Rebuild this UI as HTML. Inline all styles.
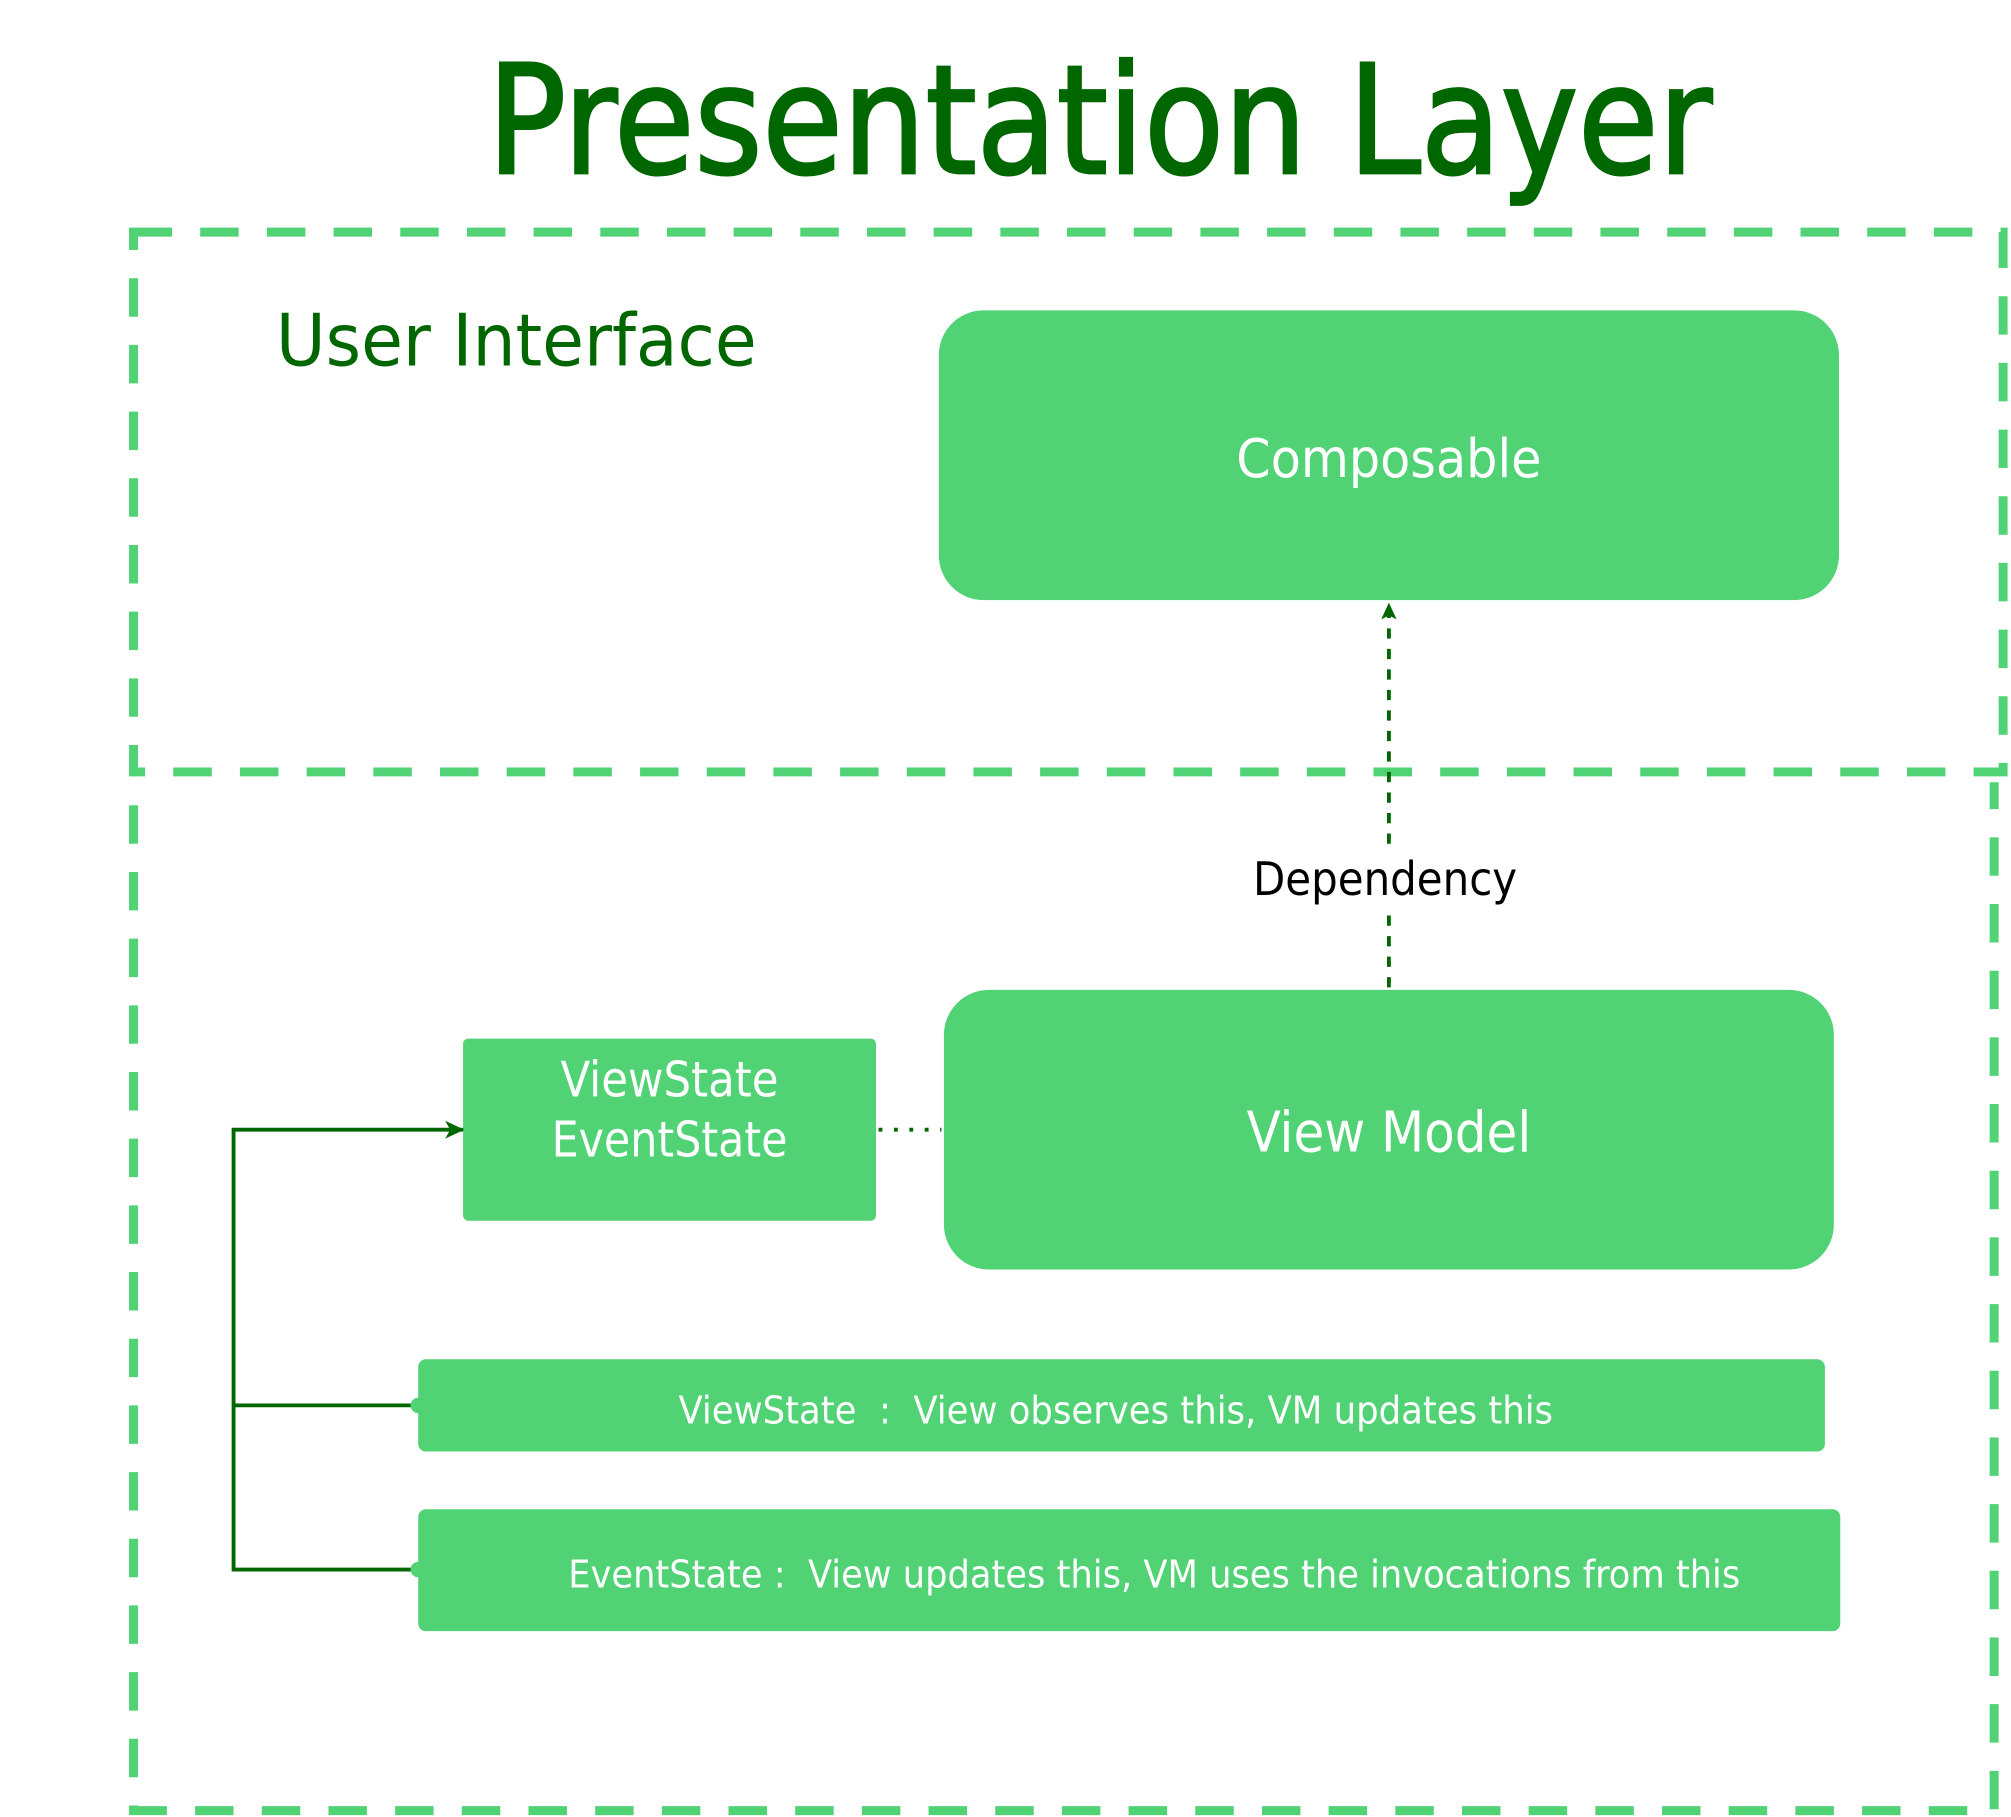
<!DOCTYPE html>
<html><head><meta charset="utf-8"><style>html,body{margin:0;padding:0;background:#fff}svg{display:block}</style></head>
<body>
<svg width="2011" height="1817" viewBox="0 0 1568 1417" xmlns="http://www.w3.org/2000/svg" font-family="'DejaVu Sans Condensed','DejaVu Sans','Liberation Sans',sans-serif">
<defs>
<marker id="ah" markerWidth="16" markerHeight="16" refX="14" refY="8" orient="auto" markerUnits="userSpaceOnUse">
<path d="M0,1 L15,8 L0,15 L4,8 Z" fill="#006600"/></marker>
<marker id="ah2" markerWidth="14" markerHeight="14" refX="12" refY="7" orient="auto" markerUnits="userSpaceOnUse">
<path d="M0,1 L13,7 L0,13 L3,7 Z" fill="#006600"/></marker>
</defs>
<text x="380" y="135" font-size="118" fill="#006600" stroke="#006600" stroke-width="2" textLength="955" lengthAdjust="spacingAndGlyphs">Presentation Layer</text>
<rect x="104" y="181" width="1458" height="421" fill="none" stroke="#50d275" stroke-width="7" stroke-dasharray="30 22"/>
<path d="M104,628 L104,1412 L1555,1412 L1555,610" fill="none" stroke="#50d275" stroke-width="7" stroke-dasharray="30 22"/>
<text x="215" y="285" font-size="56" fill="#006600" textLength="375" lengthAdjust="spacingAndGlyphs">User Interface</text>
<rect x="732" y="242" width="702" height="226" rx="35" fill="#50d275"/>
<text x="1083" y="372" font-size="42" fill="#fff" text-anchor="middle" textLength="238" lengthAdjust="spacingAndGlyphs">Composable</text>
<line x1="1083" y1="770" x2="1083" y2="471" stroke="#006600" stroke-width="3" stroke-dasharray="8 8" marker-end="url(#ah2)"/>
<rect x="970" y="662" width="220" height="46" fill="#fff"/>
<text x="1080" y="698" font-size="36" fill="#000" text-anchor="middle" textLength="206" lengthAdjust="spacingAndGlyphs">Dependency</text>
<rect x="736" y="772" width="694" height="218" rx="35" fill="#50d275"/>
<text x="1083" y="898" font-size="44" fill="#fff" text-anchor="middle" textLength="222" lengthAdjust="spacingAndGlyphs">View Model</text>
<rect x="361" y="810" width="322" height="142" rx="4" fill="#50d275"/>
<text x="522" y="855" font-size="38" fill="#fff" text-anchor="middle" textLength="170" lengthAdjust="spacingAndGlyphs">ViewState</text>
<text x="522" y="902" font-size="38" fill="#fff" text-anchor="middle" textLength="184" lengthAdjust="spacingAndGlyphs">EventState</text>
<line x1="685" y1="881" x2="734" y2="881" stroke="#006600" stroke-width="3" stroke-dasharray="3 9"/>
<polyline points="326,1224 182,1224 182,881 361,881" fill="none" stroke="#006600" stroke-width="3" marker-end="url(#ah)"/>
<line x1="182" y1="1096" x2="326" y2="1096" stroke="#006600" stroke-width="3"/>
<rect x="326" y="1060" width="1097" height="72" rx="6" fill="#50d275"/>
<circle cx="326" cy="1096" r="6" fill="#50d275"/>
<text x="870" y="1110" font-size="30" fill="#fff" text-anchor="middle" textLength="682" lengthAdjust="spacingAndGlyphs" xml:space="preserve">ViewState  :  View observes this, VM updates this</text>
<rect x="326" y="1177" width="1109" height="95" rx="6" fill="#50d275"/>
<circle cx="326" cy="1224" r="6" fill="#50d275"/>
<text x="900" y="1238" font-size="30" fill="#fff" text-anchor="middle" textLength="914" lengthAdjust="spacingAndGlyphs" xml:space="preserve">EventState :  View updates this, VM uses the invocations from this</text>
</svg>
</body></html>
